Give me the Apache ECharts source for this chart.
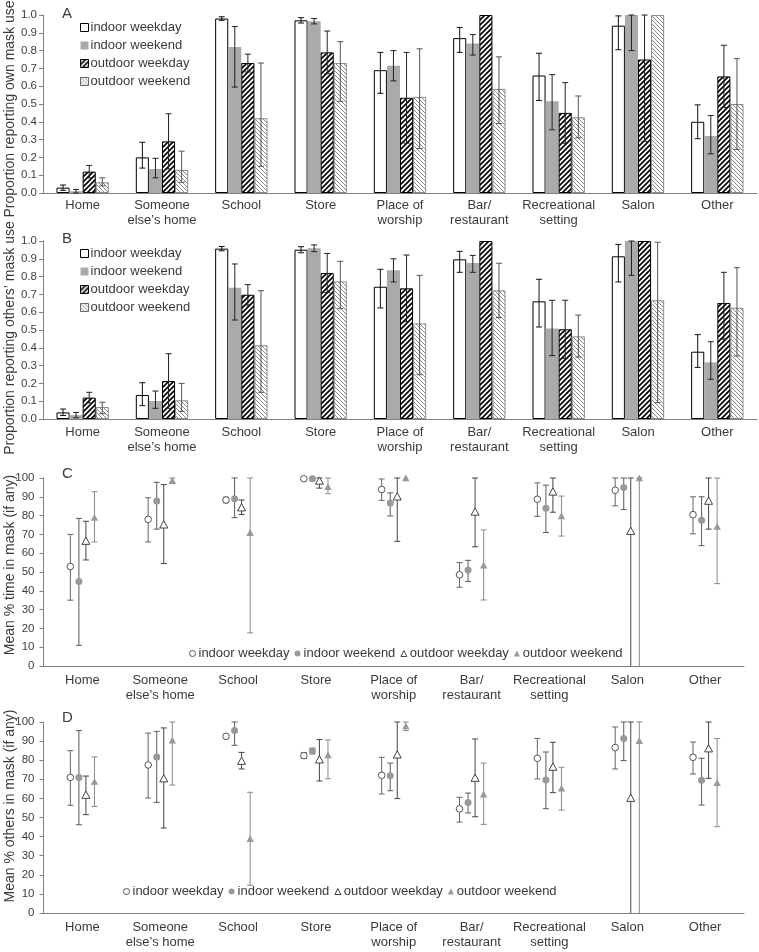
<!DOCTYPE html>
<html><head><meta charset="utf-8">
<script src="https://cdn.jsdelivr.net/npm/echarts@6/dist/echarts.min.js"></script>
<style>html,body{margin:0;padding:0;background:#fff}#c{width:759px;height:952px}</style>
</head><body><div id="c"></div>
<script>
const categories = ['Home', 'Someone\nelse\u2019s home', 'School', 'Store', 'Place of\nworship', 'Bar/\nrestaurant', 'Recreational\nsetting', 'Salon', 'Other'];
const seriesNames = ['indoor weekday', 'indoor weekend', 'outdoor weekday', 'outdoor weekend'];
const panelLetters = ['A', 'B', 'C', 'D'];
const axisTitles = ['Proportion reporting own mask use', 'Proportion reporting others\u2019 mask use', 'Mean % time in mask (if any)', 'Mean % others in mask (if any)'];

// Panel A: proportion reporting own mask use
const ownIndoorWeekday = [0.03, 0.20, 0.98, 0.97, 0.69, 0.87, 0.66, 0.94, 0.40];
const ownIndoorWeekdayCI = [[0.015,0.045],[0.14,0.285],[0.97,0.99],[0.955,0.985],[0.56,0.79],[0.79,0.93],[0.52,0.785],[0.805,0.995],[0.305,0.495]];
const ownIndoorWeekend = [0.01, 0.135, 0.82, 0.965, 0.715, 0.84, 0.515, 1.0, 0.32];
const ownIndoorWeekendCI = [[0.0,0.02],[0.085,0.195],[0.595,0.935],[0.95,0.98],[0.63,0.80],[0.775,0.89],[0.355,0.665],[0.80,1.0],[0.22,0.435]];
const ownOutdoorWeekday = [0.12, 0.29, 0.73, 0.79, 0.535, 1.0, 0.45, 0.75, 0.655];
const ownOutdoorWeekdayCI = [[0.085,0.155],[0.135,0.445],[0.68,0.78],[0.67,0.91],[0.28,0.79],null,[0.28,0.62],[0.29,1.0],[0.48,0.83]];
const ownOutdoorWeekend = [0.06, 0.13, 0.42, 0.73, 0.54, 0.585, 0.425, 1.0, 0.50];
const ownOutdoorWeekendCI = [[0.04,0.085],[0.06,0.235],[0.15,0.73],[0.515,0.85],[0.25,0.81],[0.39,0.765],[0.31,0.545],null,[0.245,0.755]];

// Panel B: proportion reporting others' mask use
const othIndoorWeekday = [0.037, 0.135, 0.957, 0.951, 0.743, 0.897, 0.661, 0.914, 0.378];
const othIndoorWeekdayCI = [[0.02,0.056],[0.075,0.204],[0.945,0.969],[0.934,0.968],[0.624,0.841],[0.824,0.942],[0.517,0.785],[0.77,0.981],[0.29,0.474]];
const othIndoorWeekend = [0.022, 0.101, 0.738, 0.959, 0.835, 0.876, 0.509, 1.0, 0.318];
const othIndoorWeekendCI = [[0.007,0.037],[0.06,0.157],[0.556,0.871],[0.94,0.978],[0.77,0.90],[0.824,0.919],[0.356,0.667],[0.807,1.0],[0.223,0.434]];
const othOutdoorWeekday = [0.12, 0.213, 0.698, 0.82, 0.734, 1.0, 0.504, 1.0, 0.652];
const othOutdoorWeekdayCI = [[0.09,0.15],[0.06,0.367],[0.64,0.755],[0.71,0.93],[0.547,0.921],null,[0.34,0.667],null,[0.448,0.824]];
const othOutdoorWeekend = [0.067, 0.105, 0.414, 0.773, 0.537, 0.723, 0.464, 0.667, 0.625];
const othOutdoorWeekendCI = [[0.03,0.094],[0.043,0.2],[0.15,0.721],[0.62,0.886],[0.249,0.807],[0.57,0.875],[0.348,0.584],[0.092,0.993],[0.354,0.85]];

// Panel C: mean % time in mask
const timeIndoorWeekday = [52.9, 78, 88.3, 99.6, 93.9, 48.5, 88.7, 93.5, 80.5];
const timeIndoorWeekdayCI = [[35,70],[66,89.5],[86.8,89.8],[99,100],[88.1,99.5],[41.9,55],[79.6,97.4],[85.2,100],[70.3,90]];
const timeIndoorWeekend = [45, 87.8, 89, 99.6, 86.7, 51.1, 83.9, 94.9, 77.5];
const timeIndoorWeekendCI = [[11,78.5],[72.8,97.7],[78.9,100],[99,100],[79.8,92.1],[45,56.2],[71,96.2],[83.2,100],[64,90]];
const timeOutdoorWeekday = [66.3, 75, 84.1, 98.3, 89.9, 81.8, 92.5, 71.6, 87.6];
const timeOutdoorWeekdayCI = [[56.4,77],[54.5,96.5],[80.6,88.3],[94.6,100],[66.3,100],[63.4,100],[81.8,100],[0,100],[72.8,100]];
const timeOutdoorWeekend = [78.7, 98.4, 70.7, 95.1, 99.7, 53.4, 79.6, 99.8, 74];
const timeOutdoorWeekendCI = [[66,92.7],[97,100],[17.6,100],[91.6,100],null,[35.1,72.4],[69.1,90.4],[0,100],[43.8,100]];

// Panel D: mean % others in mask
const pctIndoorWeekday = [71, 77.5, 92.5, 82.4, 72.1, 54.5, 81, 86.6, 81.5];
const pctIndoorWeekdayCI = [[56.4,85],[60.2,94.2],[91.5,93.5],[81,84],[62.3,81.5],[47.6,60.6],[70.2,91.4],[75.4,97.4],[72.8,89.5]];
const pctIndoorWeekend = [71, 81.7, 95.5, 84.8, 71.9, 57.9, 69.6, 91.4, 69.5];
const pctIndoorWeekendCI = [[46.2,95.5],[57.9,95.1],[87.8,100],[83.3,86.3],[64,78.5],[52.4,62.8],[54.6,84.3],[79.8,100],[56.5,81]];
const pctOutdoorWeekday = [61.6, 70.2, 79.4, 80.1, 82.7, 70.5, 76.3, 60, 85.9];
const pctOutdoorWeekdayCI = [[51.5,71.7],[44.5,96.9],[75.4,84.1],[69.1,90.8],[59.9,100],[50.4,91.1],[63,89.4],[0,100],[70.5,100]];
const pctOutdoorWeekend = [68.6, 90.2, 38.7, 82.5, 97.7, 62, 65.1, 89.9, 67.9];
const pctOutdoorWeekendCI = [[55.8,81.7],[67,100],[14.5,63.2],[70.3,90.6],[95.5,100],[46.4,78.5],[53.9,76.3],[0,100],[45.2,91.3]];

const panelData = [
  [[ownIndoorWeekday, ownIndoorWeekdayCI], [ownIndoorWeekend, ownIndoorWeekendCI], [ownOutdoorWeekday, ownOutdoorWeekdayCI], [ownOutdoorWeekend, ownOutdoorWeekendCI]],
  [[othIndoorWeekday, othIndoorWeekdayCI], [othIndoorWeekend, othIndoorWeekendCI], [othOutdoorWeekday, othOutdoorWeekdayCI], [othOutdoorWeekend, othOutdoorWeekendCI]],
  [[timeIndoorWeekday, timeIndoorWeekdayCI], [timeIndoorWeekend, timeIndoorWeekendCI], [timeOutdoorWeekday, timeOutdoorWeekdayCI], [timeOutdoorWeekend, timeOutdoorWeekendCI]],
  [[pctIndoorWeekday, pctIndoorWeekdayCI], [pctIndoorWeekend, pctIndoorWeekendCI], [pctOutdoorWeekday, pctOutdoorWeekdayCI], [pctOutdoorWeekend, pctOutdoorWeekendCI]]
];

const FONT = 'Liberation Sans, Arial, sans-serif';
const TXT = '#3a3a3a';

function hatch(size, color, lw, dir) {
  const c = document.createElement('canvas');
  c.width = size; c.height = size;
  const ctx = c.getContext('2d');
  ctx.fillStyle = '#fff'; ctx.fillRect(0, 0, size, size);
  ctx.strokeStyle = color; ctx.lineWidth = lw;
  ctx.beginPath();
  if (dir === '/') {
    ctx.moveTo(0, size); ctx.lineTo(size, 0);
    ctx.moveTo(-size/2, size/2); ctx.lineTo(size/2, -size/2);
    ctx.moveTo(size/2, size*1.5); ctx.lineTo(size*1.5, size/2);
  } else {
    ctx.moveTo(0, 0); ctx.lineTo(size, size);
    ctx.moveTo(-size/2, size/2); ctx.lineTo(size/2, size*1.5);
    ctx.moveTo(size/2, -size/2); ctx.lineTo(size*1.5, size/2);
  }
  ctx.stroke();
  return { image: c, repeat: 'repeat' };
}

const barStyles = [
  { color: '#ffffff', borderColor: '#000', borderWidth: 1 },
  { color: '#aaaaaa', borderWidth: 0 },
  { color: hatch(5, '#000', 1.7, '/'), borderColor: '#000', borderWidth: 1 },
  { color: hatch(4, '#8a8a8a', 1, '\\'), borderColor: '#8a8a8a', borderWidth: 1 }
];
const barErrColors = ['#111', '#222', '#222', '#555'];
const ptErrColors = ['#666', '#5a5a5a', '#444', '#8a8a8a'];
const ptOffsets = [-0.155, -0.045, 0.045, 0.155];
const BAR_CAT_GAP = 0.34;

const grids = [
  { left: 43, right: 2, top: 15, height: 178 },
  { left: 43, right: 2, top: 241, height: 178 },
  { left: 43.5, right: 15, top: 478, height: 188 },
  { left: 43.5, right: 15, top: 722, height: 191 }
].map(g => Object.assign({ containLabel: false, outerBoundsMode: 'none' }, g));
const labelMargins = [5, 6, 7, 7];
const titlePads = [[0,10,0,0],[0,16,0,0],[0,0,0,14],[0,0,0,23]];

const xAxes = grids.map((g, i) => ({
  type: 'category', gridIndex: i, data: categories,
  axisTick: { show: false },
  axisLine: { lineStyle: { color: '#808080', width: 1 } },
  axisLabel: { interval: 0, margin: labelMargins[i], fontSize: 13, color: TXT, lineHeight: 15, fontFamily: FONT }
}));
const yAxes = grids.map((g, i) => ({
  type: 'value', gridIndex: i, min: 0, max: i < 2 ? 1 : 100, interval: i < 2 ? 0.1 : 10,
  splitLine: { show: false },
  axisLine: { show: true, lineStyle: { color: '#808080', width: 1 } },
  axisTick: { show: true, length: 4, lineStyle: { color: '#808080' } },
  axisLabel: { margin: i < 2 ? 6 : 9, fontSize: 11.5, color: '#404040', fontFamily: FONT,
    formatter: v => i < 2 ? v.toFixed(1) : String(v) },
  name: axisTitles[i], nameLocation: 'middle', nameGap: 26, nameMoveOverlap: false,
  nameTextStyle: { fontSize: 14, color: TXT, fontFamily: FONT, padding: titlePads[i] }
}));

function barErr(j, color) {
  return function (params, api) {
    const i = api.value(0), lo = api.value(1), hi = api.value(2);
    const band = api.size([1, 0])[0];
    const bw = band * (1 - BAR_CAT_GAP) / 4;
    const pLo = api.coord([i, lo]), pHi = api.coord([i, hi]);
    const x = pLo[0] + (j - 1.5) * bw;
    const st = { stroke: color, lineWidth: 1 };
    return { type: 'group', children: [
      { type: 'line', shape: { x1: x, y1: pLo[1], x2: x, y2: pHi[1] }, style: st },
      { type: 'line', shape: { x1: x - 3, y1: pLo[1], x2: x + 3, y2: pLo[1] }, style: st },
      { type: 'line', shape: { x1: x - 3, y1: pHi[1], x2: x + 3, y2: pHi[1] }, style: st }
    ] };
  };
}

function pointRender(j, color) {
  return function (params, api) {
    const i = api.value(0), v = api.value(1), lo = api.value(2), hi = api.value(3);
    const band = api.size([1, 0])[0];
    const p = api.coord([i, v]);
    const x = p[0] + band * ptOffsets[j], y = p[1];
    const children = [];
    if (hi - lo > 1e-9) {
      const yl = api.coord([i, lo])[1], yh = api.coord([i, hi])[1];
      const st = { stroke: color, lineWidth: 1 };
      children.push({ type: 'line', shape: { x1: x, y1: yl, x2: x, y2: yh }, style: st });
      if (lo > 0) children.push({ type: 'line', shape: { x1: x - 3, y1: yl, x2: x + 3, y2: yl }, style: st });
      children.push({ type: 'line', shape: { x1: x - 3, y1: yh, x2: x + 3, y2: yh }, style: st });
    }
    if (j === 0) children.push({ type: 'circle', shape: { cx: x, cy: y, r: 3.3 }, style: { fill: '#fff', stroke: '#555', lineWidth: 1 } });
    if (j === 1) children.push({ type: 'circle', shape: { cx: x, cy: y, r: 3.5 }, style: { fill: '#999' } });
    if (j === 2) children.push({ type: 'polygon', shape: { points: [[x, y - 4.3], [x + 4, y + 3], [x - 4, y + 3]] }, style: { fill: '#fff', stroke: '#444', lineWidth: 1 } });
    if (j === 3) children.push({ type: 'polygon', shape: { points: [[x, y - 4], [x + 3.7, y + 2.8], [x - 3.7, y + 2.8]] }, style: { fill: '#999' } });
    return { type: 'group', children };
  };
}

const series = [];
for (let p = 0; p < 2; p++) {
  panelData[p].forEach((sd, j) => {
    series.push({
      type: 'bar', name: panelLetters[p] + '|' + seriesNames[j], xAxisIndex: p, yAxisIndex: p,
      data: sd[0], barGap: '0%', barCategoryGap: (BAR_CAT_GAP * 100) + '%',
      itemStyle: barStyles[j], emphasis: { disabled: true }, z: 2
    });
  });
  panelData[p].forEach((sd, j) => {
    const d = [];
    sd[1].forEach((ci, i) => { if (ci) d.push([i, ci[0], ci[1]]); });
    series.push({
      type: 'custom', xAxisIndex: p, yAxisIndex: p, data: d, z: 5,
      encode: { x: 0, y: [1, 2] }, renderItem: barErr(j, barErrColors[j]), silent: true
    });
  });
}
for (let p = 2; p < 4; p++) {
  panelData[p].forEach((sd, j) => {
    const d = sd[0].map((v, i) => sd[1][i] ? [i, v, sd[1][i][0], sd[1][i][1]] : [i, v, v, v]);
    series.push({
      type: 'custom', name: panelLetters[p] + '|' + seriesNames[j], xAxisIndex: p, yAxisIndex: p,
      data: d, z: 5 + j, clip: false, encode: { x: 0, y: 1 },
      itemStyle: { color: j % 2 ? '#999' : '#fff' },
      renderItem: pointRender(j, ptErrColors[j]), silent: true
    });
  });
}

const fmt = n => n.split('|')[1];
const barIconStyles = [
  { color: '#fff', borderColor: '#000', borderWidth: 1 },
  { color: '#aaaaaa', borderWidth: 0 },
  { borderColor: '#000', borderWidth: 1 },
  { borderColor: '#666', borderWidth: 1 }
];
const barLegend = (p, top) => ({
  orient: 'vertical', left: 80, top: top, padding: 0, itemWidth: 8, itemHeight: 8, itemGap: 3,
  selectedMode: false, formatter: fmt, icon: 'rect',
  textStyle: { fontSize: 13, color: TXT, fontFamily: FONT, lineHeight: 15, padding: [0, 0, 0, -3] },
  data: seriesNames.map((s, j) => ({ name: panelLetters[p] + '|' + s, icon: 'rect', itemStyle: barIconStyles[j] }))
});
const ptIcons = [
  { icon: 'circle', itemStyle: { color: '#fff', borderColor: '#555', borderWidth: 1 } },
  { icon: 'circle', itemStyle: { color: '#999', borderWidth: 0 } },
  { icon: 'triangle', itemStyle: { color: '#fff', borderColor: '#444', borderWidth: 1 } },
  { icon: 'triangle', itemStyle: { color: '#999', borderWidth: 0 } }
];
const ptLegend = (p, left, top) => ({
  orient: 'horizontal', left: left, top: top, padding: 0, itemWidth: 6, itemHeight: 6, itemGap: 5,
  selectedMode: false, formatter: fmt,
  textStyle: { fontSize: 13, color: TXT, fontFamily: FONT, lineHeight: 15, padding: [0, 0, 0, -2] },
  data: seriesNames.map((s, j) => Object.assign({ name: panelLetters[p] + '|' + s }, ptIcons[j]))
});

const letterTops = [6, 231, 466, 710];
const option = {
  animation: false,
  backgroundColor: '#fff',
  textStyle: { fontFamily: FONT },
  title: panelLetters.map((L, i) => ({ text: L, left: 62, top: letterTops[i], padding: 0,
    textStyle: { fontSize: 15, fontWeight: 'normal', color: TXT, fontFamily: FONT } })),
  legend: [barLegend(0, 20), barLegend(1, 246), ptLegend(2, 189, 646), ptLegend(3, 123, 884)],
  grid: grids,
  xAxis: xAxes,
  yAxis: yAxes,
  series: series
};
const chart = echarts.init(document.getElementById('c'), null, { renderer: 'canvas' });
chart.setOption(option);
</script></body></html>
